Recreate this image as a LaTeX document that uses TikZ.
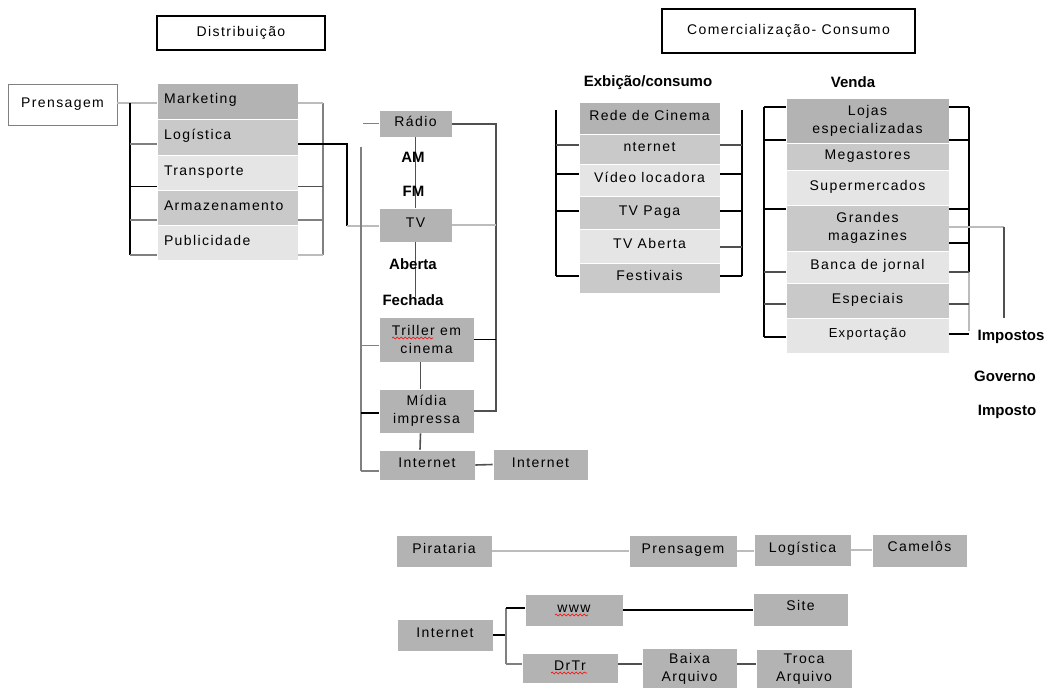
\documentclass[tikz,border=0pt]{standalone}
\usepackage{fontspec}
\setmainfont{Liberation Sans}
\newfontfamily\boxfont{Liberation Sans}[LetterSpace=10]
\usetikzlibrary{decorations.pathmorphing}

\definecolor{shadeA}{RGB}{179,179,179}
\definecolor{shadeB}{RGB}{201,201,201}
\definecolor{shadeC}{RGB}{229,229,229}
\definecolor{inkD}{RGB}{80,80,80}
\definecolor{inkM}{RGB}{128,128,128}
\definecolor{inkL}{RGB}{188,188,188}

\tikzset{
  gcell/.style={draw=white, line width=0.8pt, inner sep=0pt, align=center,
    font=\boxfont\fontsize{14}{18}\selectfont, text height=10pt, text depth=5pt},
  ml/.style={text height={}, text depth={}},
  raised/.style={text depth=8pt},
  smalltxt/.style={font=\boxfont\fontsize{13}{16}\selectfont},
  dcol/.style={align=left, text width=127pt},
  ttl/.style={draw=black, line width=2pt, fill=white, inner sep=0pt,
    font=\boxfont\fontsize{14}{18}\selectfont},
  plainbox/.style={draw=inkM, line width=0.8pt, fill=white, inner sep=0pt,
    font=\boxfont\fontsize{14}{18}\selectfont},
  lbl/.style={inner sep=0pt, font=\bfseries\fontsize{15}{18}\selectfont},
  wire/.style={line width=1.6pt},
  lk/.style={wire, draw=black},
  ld/.style={wire, draw=inkD},
  ldw/.style={line width=2.6pt, draw=inkD},
  lm/.style={wire, draw=inkM},
  ll/.style={wire, draw=inkL},
  squig/.style={draw=red, line width=0.6pt, decorate,
    decoration={snake, amplitude=0.9pt, segment length=4pt}},
}

% \cell[opts]{name}{x1}{y1}{x2}{y2}{fill}{text}
\newcommand\cell[8][]{%
  \node[gcell, fill=#7, minimum width={(#5-#3)*1pt}, minimum height={(#6-#4)*1pt}, #1]
    (#2) at ({(#3+#5)/2},{(#4+#6)/2}) {#8};}

\begin{document}
\begin{tikzpicture}[x=1pt, y=-1pt]
\useasboundingbox (0,0) rectangle (1047,688);
\fill[white] (0,0) rectangle (1047,688);
\clip (0,0) rectangle (1047,688);

% ---------- headings ----------
\node[ttl, minimum width=168pt, minimum height=34pt] (dist) at (241,33) {Distribuição};
\node[ttl, minimum width=253pt, minimum height=44pt] (comerc) at (788.5,31) {Comercialização- Consumo};

% ---------- distribution column ----------
\node[plainbox, minimum width=109pt, minimum height=41pt] (pren) at (62.5,104.5) {Prensagem};

\cell[dcol]{mkt}{157}{83}{298}{119}{shadeA}{Marketing}
\cell[dcol]{logi}{157}{119}{298}{155}{shadeB}{Logística}
\cell[dcol]{transp}{157}{155}{298}{190}{shadeC}{Transporte}
\cell[dcol]{armaz}{157}{190}{298}{225}{shadeB}{Armazenamento}
\cell[dcol]{publ}{157}{225}{298}{260}{shadeC}{Publicidade}

\coordinate (dl1) at (130,103);
\coordinate (dl5) at (130,255);
\draw[ll] (pren.east |- dl1) -- (mkt.west |- dl1);
\draw[lk] (dl1) -- (dl5);
\draw[lm] ([yshift=-7pt]logi.west) -- ++(-27,0);
\draw[lk] ([yshift=-14pt]transp.west) -- ++(-27,0);
\draw[lm] ([yshift=-12.5pt]armaz.west) -- ++(-27,0);
\draw[lm] ([yshift=-12.5pt]publ.west) -- ++(-27,0);

\coordinate (dr1) at (323,103);
\coordinate (dr5) at (323,255);
\draw[lm] (dr1) -- (dr5);
\draw[ll] (mkt.east |- dr1) -- (dr1);
\draw[ld] ([yshift=-14pt]transp.east) -- ++(25,0);
\draw[lm] ([yshift=-12.5pt]armaz.east) -- ++(25,0);
\draw[ll] ([yshift=-12.5pt]publ.east) -- ++(25,0);

% ---------- media column ----------
\cell{radio}{379}{110}{452}{137}{shadeA}{Rádio}
\cell{tv}{379}{208}{452}{242}{shadeA}{TV}
\cell[ml]{triller}{379}{317}{474}{362}{shadeA}{Triller em\\cinema}
\cell[ml]{midia}{379}{389}{474}{433}{shadeA}{Mídia\\impressa}
\cell{inet}{379}{450}{475}{480}{shadeA}{Internet}
\cell{inetb}{493}{449}{588}{480}{shadeA}{Internet}

% route from Logística to TV
\coordinate (lgk) at (347,144);
\coordinate (tvj) at (347,226);
\draw[lk] ([yshift=-7pt]logi.east) -- (lgk) -- (tvj);
\draw[ll] (tvj) -- (tv.west |- tvj);

% left spine of the media column
\coordinate (ml1) at (361,147);
\coordinate (ml2) at (361,471);
\draw[lm] (ml1) -- (ml2);
\draw[lm] (radio.west) -- ++(-16,0);
\draw[lm] ([yshift=-6pt]triller.west) -- ++(-18,0);
\draw[lk] ([yshift=-2pt]midia.west) -- ++(-18,0);
\draw[lm] ([yshift=-6pt]inet.west) -- ++(-18,0);

% right spine of the media column
\coordinate (mr1) at (496,124);
\coordinate (mr4) at (496,412);
\draw[ld] (radio.east |- mr1) -- (mr1) -- (mr4);
\draw[ll] (tv.east) -- (tv.east -| mr1);
\draw[lk] (triller.east) -- (triller.east -| mr1);
\draw[ld] (midia.east) -- (midia.east -| mr1);

% sub-items of Rádio and TV
\coordinate (tvend) at (415.5,297);
\draw[ld] (radio.south) -- (tv.north);
\draw[ld] (tv.south) -- (tvend);
\node[lbl] (am) at (413,157) {AM};
\node[lbl] (fm) at (413.5,191) {FM};
\node[lbl] (aberta) at (413,264) {Aberta};
\node[lbl] (fech) at (413,300) {Fechada};

\draw[ld] ([xshift=-6pt]triller.south) -- ([xshift=-6pt]midia.north);
\draw[ld] ([xshift=-6pt]midia.south) -- ([xshift=-7pt]inet.north);
\draw[ld] (inet.east) -- (inetb.west);
\draw[squig] (392,338) -- (433,338);

% ---------- exhibition column ----------
\node[lbl] (exib) at (648,83) {Exbição/consumo};
\cell{rede}{579}{102}{720}{134}{shadeA}{Rede de Cinema}
\cell{inetc}{579}{134}{720}{164}{shadeB}{nternet}
\cell{video}{579}{164}{720}{196}{shadeC}{Vídeo locadora}
\cell{tvpaga}{579}{196}{720}{229}{shadeB}{TV Paga}
\cell{tvab}{579}{229}{720}{263}{shadeC}{TV Aberta}
\cell{fest}{579}{263}{720}{293}{shadeB}{Festivais}

\coordinate (el1) at (556,110);
\coordinate (el2) at (556,276);
\draw[lk] (el1) -- (el2);
\draw[ldw] ([yshift=4pt]inetc.west) -- ++(-23,0);
\draw[lk] ([yshift=6pt]video.west) -- ++(-23,0);
\draw[lk] ([yshift=1.5pt]tvpaga.west) -- ++(-23,0);
\draw[lk] ([yshift=2pt]fest.west) -- ++(-23,0);

\coordinate (er1) at (742,110);
\coordinate (er2) at (742,276);
\draw[lk] (er1) -- (er2);
\draw[ldw] ([yshift=4pt]inetc.east) -- ++(22,0);
\draw[lk] ([yshift=6pt]video.east) -- ++(22,0);
\draw[lk] ([yshift=1.5pt]tvpaga.east) -- ++(22,0);
\draw[ld] ([yshift=-1pt]tvab.east) -- ++(22,0);
\draw[lk] ([yshift=2pt]fest.east) -- ++(22,0);

% ---------- sales column ----------
\node[lbl] (venda) at (853,82) {Venda};
\cell[ml]{lojas}{786}{98}{949}{143}{shadeA}{Lojas\\especializadas}
\cell{mega}{786}{143}{949}{170}{shadeB}{Megastores}
\cell{super}{786}{170}{949}{205}{shadeC}{Supermercados}
\cell[ml]{grandes}{786}{205}{949}{251}{shadeB}{Grandes\\magazines}
\cell{banca}{786}{251}{949}{283}{shadeC}{Banca de jornal}
\cell{espec}{786}{283}{949}{318}{shadeB}{Especiais}
\cell[smalltxt, text height=9pt, text depth=6pt]{export}{786}{318}{949}{353}{shadeC}{Exportação}

\coordinate (vl1) at (764,107);
\coordinate (vl2) at (764,337);
\draw[lk] (vl1) -- (vl2);
\draw[lk] ([yshift=13.5pt]lojas.west) -- ++(-22,0);
\draw[lk] ([yshift=-19.5pt]lojas.west) -- ++(-22,0);
\draw[lk] ([yshift=19pt]grandes.west) -- ++(-22,0);
\draw[ldw] ([yshift=-5pt]banca.west) -- ++(-22,0);
\draw[ld] ([yshift=-3.5pt]espec.west) -- ++(-22,0);
\draw[lk] ([yshift=-1.5pt]export.west) -- ++(-22,0);

\coordinate (vr1) at (969,107);
\coordinate (vr2) at (969,272);
\coordinate (vr3) at (969,331);
\draw[lk] (vr1) -- (vr2);
\draw[ll] (vr2) -- (vr3);
\draw[lk] ([yshift=13.5pt]lojas.east) -- ++(20,0);
\draw[lk] ([yshift=-19.5pt]lojas.east) -- ++(20,0);
\draw[lk] ([yshift=19pt]grandes.east) -- ++(20,0);
\draw[lk] ([yshift=-15pt]grandes.east) -- ++(20,0);
\draw[ldw] ([yshift=-5pt]banca.east) -- ++(20,0);
\draw[ld] ([yshift=-3.5pt]espec.east) -- ++(20,0);
\draw[lk] ([yshift=1.5pt]export.east) -- ++(20,0);

% taxes branch
\coordinate (tx1) at (1004,227);
\coordinate (tx2) at (1004,318);
\draw[ll] ([yshift=1pt]grandes.east) -- (tx1);
\draw[ld] (tx1) -- (tx2);
\node[lbl] (impostos) at (1011,337) {Impostos};
\node[lbl] (governo) at (1005,376) {Governo};
\node[lbl] (imposto) at (1007,412) {Imposto};

% ---------- piracy chain ----------
\cell{pir}{396}{535}{492}{567}{shadeA}{Pirataria}
\cell{pren2}{629}{535}{737}{567}{shadeA}{Prensagem}
\cell{log2}{754}{534}{851}{566}{shadeA}{Logística}
\cell[raised]{cam}{872}{534}{967}{567}{shadeA}{Camelôs}
\draw[ll] (pir.east) -- (pren2.west);
\draw[ll] (pren2.east) -- (log2.west |- pren2.east);
\draw[ll] (log2.east) -- (cam.west |- log2.east);

% ---------- internet distribution ----------
\cell{inet3}{397}{619}{493}{651}{shadeA}{Internet}
\cell{www}{525}{594}{623}{626}{shadeA}{www}
\cell[raised]{site}{753}{593}{848}{626}{shadeA}{Site}
\cell{drtr}{522}{653}{618}{683}{shadeA}{DrTr}
\cell[ml]{baixa}{642}{648}{737}{690}{shadeA}{Baixa\\Arquivo}
\cell[ml]{troca}{756}{649}{852}{690}{shadeA}{Troca\\Arquivo}

\coordinate (ib) at (506,635);
\coordinate (ib1) at (506,608);
\coordinate (ib2) at (506,664);
\draw[lk] (inet3.east) -- (ib);
\draw[lm] (ib1) -- (ib2);
\draw[lk] (ib1) -- (ib1 -| www.west);
\draw[lm] (ib2) -- (ib2 -| drtr.west);
\draw[lk, line width=2.6pt] (www.east) -- (site.west |- www.east);
\draw[ld] ([yshift=4pt]drtr.east) -- ++(24,0);
\draw[ld] ([yshift=5pt]baixa.east) -- ++(19,0);
\draw[squig] (555,615) -- (588,615);
\draw[squig] (551,673) -- (587,673);
\end{tikzpicture}
\end{document}
